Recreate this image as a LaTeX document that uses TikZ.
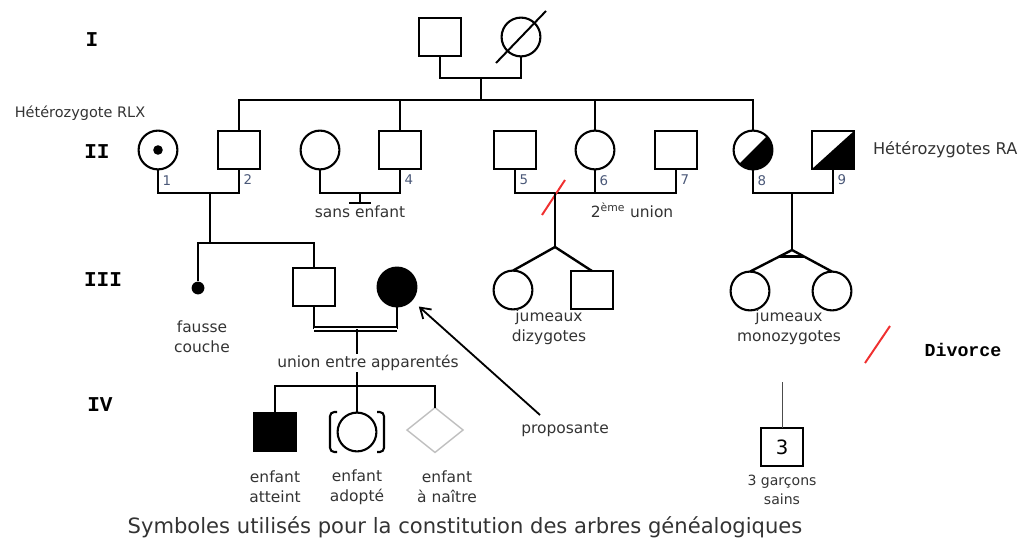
\documentclass[tikz,border=0pt]{standalone}
\usepackage{fontspec}
\setmainfont{DejaVu Sans}
\newfontfamily\romfont{Liberation Mono}
\usetikzlibrary{positioning,shapes.geometric,arrows.meta,calc}
\definecolor{ink}{HTML}{333333}
\definecolor{numblue}{HTML}{4A5878}
\definecolor{divred}{HTML}{F03030}
\tikzset{
  male/.style={draw,rectangle,minimum width=1.05cm,minimum height=0.95cm,inner sep=0pt,outer sep=0pt,line width=2.1pt},
  female/.style={draw,circle,minimum size=0.97cm,inner sep=0pt,outer sep=0pt,line width=1.5pt},
  unborn/.style={draw=black!25,diamond,minimum width=1.4cm,minimum height=1.12cm,inner sep=0pt,outer sep=0pt,line width=1pt},
  num/.style={text=numblue,font=\fontsize{9.5}{10}\selectfont,inner sep=1pt},
  lbl/.style={text=ink,font=\fontsize{11}{14}\selectfont,align=center,inner sep=1pt},
  gen/.style={font=\romfont\bfseries\fontsize{15}{15}\selectfont},
  link/.style={line width=1.7pt},
  divslash/.style={draw=divred,line width=1.4pt}
}
\begin{document}
\begin{tikzpicture}[x=0.025cm,y=-0.025cm]
\useasboundingbox (0,0) rectangle (1023,545);
\node[gen] (GI) at (92,40) {I};
\node[gen] (GII) at (97,152) {II};
\node[gen] (GIII) at (103,280) {III};
\node[gen] (GIV) at (100,405) {IV};

\node[male] (I1) at (440,37) {};
\node[female] (I2) at (521,37) {};
\draw[line width=1.4pt] ([shift={(-25,26)}]I2.center) -- ([shift={(25,-26)}]I2.center);
\coordinate (mI) at (481,78);
\coordinate (sII) at (481,100);
\draw[link] (I1.south) |- (mI) -| (I2.south);
\draw[link] (mI) -- (sII);

\node[female] (II1) at (158,150) {};
\fill (II1) circle[radius=0.12cm];
\node[male] (II2) at (239,150) {};
\node[female] (II3) at (320,150) {};
\node[male] (II4) at (400,150) {};
\node[male] (II5) at (515,150) {};
\node[female] (II6) at (595,150) {};
\node[male] (II7) at (676,150) {};
\node[female] (II8) at (753,150) {};
\fill (II8.45) arc[start angle=45,end angle=-135,radius=0.485cm] -- cycle;
\node[male] (II9) at (833,150) {};
\fill (II9.south west) -- (II9.south east) -- (II9.north east) -- cycle;
\draw[link] (II2.north) |- (sII) -| (II8.north);
\foreach \n in {II4,II6} \draw[link] (\n.north) -- (\n.north |- sII);

\node[text=ink,font=\fontsize{10.3}{12}\selectfont] (rlx) at (80,113) {Hétérozygote RLX};
\node[text=ink,font=\fontsize{11.5}{13}\selectfont,right=10pt of II9] (ra) {Hétérozygotes RA};
\foreach \n/\t in {II1/1,II2/2,II4/4,II5/5,II6/6,II7/7,II8/8,II9/9}
  \node[num,below right=3pt and 2pt of \n.south] {\t};

\coordinate (m12) at (210,193);
\draw[link] (II1.south) |- (m12) -| (II2.south);
\coordinate (m34) at (360,193);
\coordinate (nc) at (360,203);
\draw[link] (II3.south) |- (m34) -| (II4.south);
\draw[link] (m34) -- (nc);
\draw[link] ([xshift=-0.28cm]nc) -- ([xshift=0.28cm]nc);
\node[lbl,below=1pt of nc] (ne) {sans enfant};
\coordinate (m56) at (555,193);
\draw[link] (II5.south) |- (m56) -| (II7.south);
\draw[link] (II6.south) -- (II6.south |- m56);
\draw[divslash] (542,215) -- (565,180);
\node[lbl] (u2) at (632,210) {2\textsuperscript{ème} union};
\coordinate (m89) at (792,193);
\draw[link] (II8.south) |- (m89) -| (II9.south);

\coordinate (s12) at (210,243);
\draw[link] (m12) -- (s12);
\node[circle,fill=black,minimum size=0.32cm,inner sep=0pt] (III1) at (198,288) {};
\node[male] (III2) at (314,287) {};
\node[female,fill=black] (III3) at (397,287) {};
\draw[link] (III1) |- (s12) -| (III2.north);
\node[lbl] (fc) at (202,337) {fausse\\couche};

\coordinate (dz) at (555,247);
\draw[link] (m56) -- (dz);
\node[female] (III5) at (513,290) {};
\node[male] (III6) at (592,290) {};
\draw[link] (dz) -- (III5.north);
\draw[link] (dz) -- (III6.north);
\node[lbl] (jd) at (549,327) {jumeaux\\dizygotes};

\coordinate (mz) at (792,250);
\draw[link] (m89) -- (mz);
\node[female] (III7) at (750,291) {};
\node[female] (III8) at (832,291) {};
\draw[link] (mz) -- (III7.north);
\draw[link] (mz) -- (III8.north);
\draw[link] ($(mz)!0.3!(III7.north)$) -- ($(mz)!0.3!(III8.north)$);
\node[lbl] (jm) at (789,327) {jumeaux\\monozygotes};

\draw[divslash] (865,363) -- (890,326);
\node[font=\romfont\bfseries\fontsize{13}{13}\selectfont] (div) at (963,350) {Divorce};

\coordinate (m23) at (357,329);
\coordinate (s23) at (357,386);
\draw[link] (III2.south) -- (III2.south |- m23);
\draw[link] (III3.south) -- (III3.south |- m23);
\draw[line width=1.2pt,double distance=1.5pt] (III2.south |- m23) -- (III3.south |- m23);
\draw[link] (m23) -- (s23);
\node[lbl,fill=white] (ua) at (368,363) {union entre apparentés};

\coordinate (ptail) at (540,415);
\draw[line width=1.3pt,-{Straight Barb[length=7pt,width=9pt]},shorten >=7pt] (ptail) -- (III3);
\node[lbl] (prop) at (565,430) {proposante};

\node[male,fill=black] (IV1) at (275,432) {};
\node[female] (IV2) at (357,432) {};
\node[unborn] (IV3) at (435,430) {};
\draw[link] (IV1.north) |- (s23) -| (IV3.north);
\draw[link] (s23) -- (IV2.north);
\draw[line width=1.5pt,rounded corners=3pt] ([shift={(-20,-20)}]IV2.center) -- ([shift={(-27,-20)}]IV2.center) -- ([shift={(-27,20)}]IV2.center) -- ([shift={(-20,20)}]IV2.center);
\draw[line width=1.5pt,rounded corners=3pt] ([shift={(20,-20)}]IV2.center) -- ([shift={(27,-20)}]IV2.center) -- ([shift={(27,20)}]IV2.center) -- ([shift={(20,20)}]IV2.center);
\node[lbl] (ea) at (275,487) {enfant\\atteint};
\node[lbl] (ead) at (357,487) {enfant\\adopté};
\node[lbl] (en) at (447,487) {enfant\\à naître};

\coordinate (t3) at (782,382);
\node[male,font=\fontsize{14}{14}\selectfont] (B3) at (782,447) {3};
\draw[line width=0.7pt,black!70] (t3) -- (B3);
\node[text=ink,font=\fontsize{10}{14}\selectfont,align=center] (gs) at (782,490) {3 garçons\\sains};

\node[text=ink,font=\fontsize{15}{17}\selectfont] (cap) at (465,527) {Symboles utilisés pour la constitution des arbres généalogiques};
\end{tikzpicture}
\end{document}
